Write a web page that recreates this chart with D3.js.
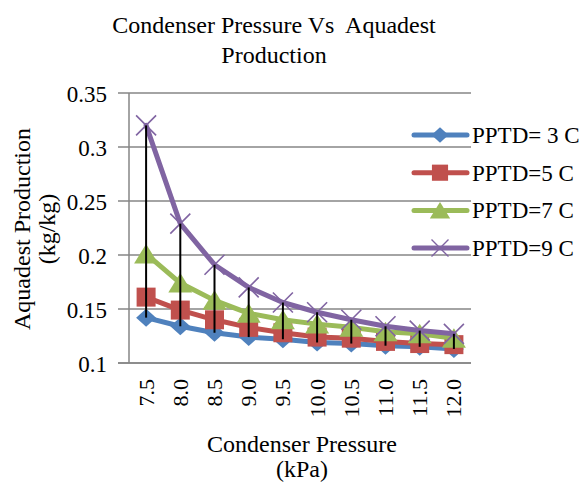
<!DOCTYPE html>
<html>
<head>
<meta charset="utf-8">
<script src="https://cdn.jsdelivr.net/npm/d3@7"></script>
<style>
  body { margin: 0; background: #fff; overflow: hidden; }
</style>
</head>
<body>
<div id="chart"></div>
<script>
// data
var pressures = ['7.5', '8.0', '8.5', '9.0', '9.5', '10.0', '10.5', '11.0', '11.5', '12.0'];
var yTicks = [0.1, 0.15, 0.2, 0.25, 0.3, 0.35];
var seriesNames = ['PPTD= 3 C', 'PPTD=5 C', 'PPTD=7 C', 'PPTD=9 C'];
var pptd3 = [0.142, 0.134, 0.128, 0.124, 0.122, 0.119, 0.118, 0.116, 0.115, 0.113];
var pptd5 = [0.161, 0.149, 0.140, 0.133, 0.128, 0.124, 0.123, 0.120, 0.118, 0.117];
var pptd7 = [0.201, 0.174, 0.158, 0.146, 0.140, 0.136, 0.133, 0.129, 0.127, 0.123];
var pptd9 = [0.320, 0.229, 0.191, 0.170, 0.156, 0.147, 0.140, 0.134, 0.130, 0.127];

var colors = ['#4F81BD', '#C0504D', '#9BBB59', '#8064A2'];
var allSeries = [pptd3, pptd5, pptd7, pptd9];

var W = 585, H = 484;
var pLeft = 129, pRight = 471, pTop = 93, pBottom = 363;
var serif = "'Liberation Serif', 'Times New Roman', Times, serif";

var svg = d3.select('#chart').append('svg').attr('width', W).attr('height', H)
    .attr('font-family', serif);

var x = d3.scaleBand().domain(pressures).range([pLeft, pRight]);
var y = d3.scaleLinear().domain([0.1, 0.35]).range([pBottom, pTop]);

// gridlines + y ticks
svg.append('g').selectAll('line').data(yTicks).enter().append('line')
    .attr('x1', pLeft - 11).attr('x2', pRight)
    .attr('y1', function(d){ return y(d); }).attr('y2', function(d){ return y(d); })
    .attr('stroke', '#868686').attr('stroke-width', 1.5);

svg.append('line').attr('x1', pLeft).attr('x2', pLeft).attr('y1', pTop).attr('y2', pBottom)
    .attr('stroke', '#868686').attr('stroke-width', 1.5);

svg.append('g').selectAll('text').data(yTicks).enter().append('text')
    .attr('x', pLeft - 22).attr('y', function(d){ return y(d) + 8.5; })
    .attr('text-anchor', 'end').attr('font-family', serif).attr('font-size', 23)
    .text(function(d){ return d3.format('')(d); });

// x tick labels (rotated)
svg.append('g').selectAll('text').data(pressures).enter().append('text')
    .attr('transform', function(d){ return 'translate(' + (x(d) + x.bandwidth()/2 + 7.5) + ',' + (pBottom + 16) + ') rotate(-90)'; })
    .attr('text-anchor', 'end').attr('font-family', serif).attr('font-size', 22)
    .text(function(d){ return d; });

// lines and markers
var line = d3.line()
    .x(function(d, i){ return x(pressures[i]) + x.bandwidth()/2; })
    .y(function(d){ return y(d); });

// marker outlines: diamond, square, triangle, cross
var markerPaths = [
    'M0,-9L10,0L0,9L-10,0Z',
    'M-9.5,-9.5H9.5V9.5H-9.5Z',
    'M0,-10L12,9.5H-12Z',
    'M-10,-10L10,10M-10,10L10,-10'
];

function marker(g, s, cx, cy, k) {
    var p = g.append('path').attr('d', markerPaths[s])
        .attr('transform', 'translate(' + cx + ',' + cy + ') scale(' + (k || 1) + ')');
    if (s < 3) p.attr('fill', colors[s]);
    else p.attr('fill', 'none').attr('stroke', colors[s]).attr('stroke-width', 1.6);
}

allSeries.forEach(function(vals, s) {
    svg.append('path').datum(vals).attr('d', line)
        .attr('fill', 'none').attr('stroke', colors[s]).attr('stroke-width', 5)
        .attr('stroke-linejoin', 'round').attr('stroke-linecap', 'round');
    var g = svg.append('g');
    vals.forEach(function(v, i) {
        marker(g, s, x(pressures[i]) + x.bandwidth()/2, y(v));
    });
});

// high-low lines
svg.append('g').selectAll('line').data(pressures).enter().append('line')
    .attr('x1', function(d){ return x(d) + x.bandwidth()/2; })
    .attr('x2', function(d){ return x(d) + x.bandwidth()/2; })
    .attr('y1', function(d, i){ return y(d3.min(allSeries, function(a){ return a[i]; })); })
    .attr('y2', function(d, i){ return y(d3.max(allSeries, function(a){ return a[i]; })); })
    .attr('stroke', '#000').attr('stroke-width', 2);

// x axis line
svg.append('line').attr('x1', pLeft - 11).attr('x2', pRight).attr('y1', pBottom).attr('y2', pBottom)
    .attr('stroke', '#868686').attr('stroke-width', 1.5);

// legend
var legend = svg.append('g');
seriesNames.forEach(function(name, s) {
    var ly = 135 + s * 37.7;
    legend.append('line').attr('x1', 414).attr('x2', 467).attr('y1', ly).attr('y2', ly)
        .attr('stroke', colors[s]).attr('stroke-width', 5).attr('stroke-linecap', 'round');
    marker(legend, s, 440, ly, 0.85);
    legend.append('text').attr('x', 472).attr('y', ly + 8).attr('font-family', serif)
        .attr('font-size', 23).text(name);
});

// title
svg.append('text').attr('x', 274).attr('y', 33).attr('text-anchor', 'middle')
    .attr('font-family', serif).attr('font-size', 24).style('white-space', 'pre')
    .text('Condenser Pressure Vs  Aquadest');
svg.append('text').attr('x', 274).attr('y', 63).attr('text-anchor', 'middle')
    .attr('font-family', serif).attr('font-size', 24).text('Production');

// axis titles
svg.append('text').attr('x', 302).attr('y', 452).attr('text-anchor', 'middle')
    .attr('font-family', serif).attr('font-size', 24).text('Condenser Pressure');
svg.append('text').attr('x', 302).attr('y', 477).attr('text-anchor', 'middle')
    .attr('font-family', serif).attr('font-size', 24).text('(kPa)');

svg.append('text').attr('transform', 'translate(30,229) rotate(-90)').attr('text-anchor', 'middle')
    .attr('font-family', serif).attr('font-size', 24).text('Aquadest Production');
svg.append('text').attr('transform', 'translate(55,229) rotate(-90)').attr('text-anchor', 'middle')
    .attr('font-family', serif).attr('font-size', 24).text('(kg/kg)');
</script>
</body>
</html>
